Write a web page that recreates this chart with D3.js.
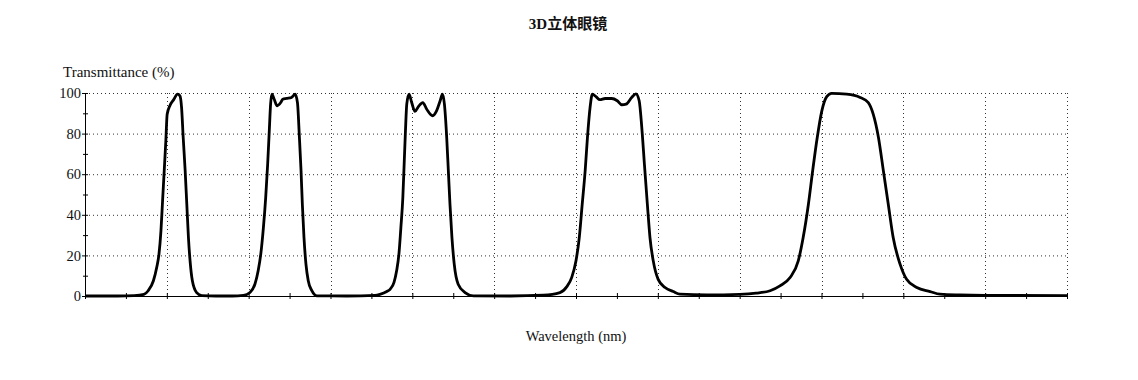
<!DOCTYPE html>
<html>
<head>
<meta charset="utf-8">
<script src="https://cdn.jsdelivr.net/npm/d3@7"></script>
<style>
  body { margin: 0; background: #fff; }
  text { font-family: "Liberation Serif", "Noto Sans CJK SC", serif; fill: #111; }
</style>
</head>
<body>
<script>
// chart texts
const chartTitle = "3D立体眼镜";
const yTitle = "Transmittance (%)";
const xTitle = "Wavelength (nm)";

// axis ranges / ticks
const xDomain = [400, 700];
const xMajorStep = 25;
const xMinorStep = 12.5;
const yTicks = [0, 20, 40, 60, 80, 100];
const yMinorTicks = [10, 30, 50, 70, 90];

// spectrum
const wavelength = [
    400, 410, 415, 418, 419.3, 420.9, 421.9, 422.6, 423.2, 423.7, 424.2, 424.7, 425.1, 426.0, 427.0, 428.3,
    429.0, 429.5, 430.0, 430.6, 431.1, 431.6, 432.1, 432.8, 434.1, 435.7, 440, 445,
    448.4, 450.4, 451.9, 452.9, 453.7, 454.5, 455.2, 455.8, 456.3, 456.7, 457.1, 457.8, 458.7, 459.8,
    460.4, 461.6, 463.1, 464.2, 464.9, 465.5, 466.0, 466.4, 466.9, 467.5, 468.2, 469.3, 470.8, 480,
    488.6, 490.1, 492.2, 493.2, 494.4, 495.2, 495.9, 496.5, 497.1, 497.5, 497.9, 498.3, 499.0, 499.8,
    500.8, 501.8, 503.2, 504.4, 506.2, 507.4, 508.5, 509.2, 509.8, 510.5, 511.0, 511.5, 512.1, 512.8,
    514.0, 516.1, 518.6, 530, 540,
    545.1, 547.2, 548.7, 550.0, 551.0, 551.9, 552.8, 553.5, 554.3, 555.0, 556.1, 557.3, 558.9, 560.9,
    562.6, 564.0, 565.3, 567.0, 568.3, 569.3, 570.1, 570.9, 571.8, 572.6, 573.6, 575.1, 577.2, 579.7,
    581.8, 590, 600, 605,
    609.3, 612.3, 615.4, 617.9, 619.4, 621.0, 622.3, 623.7, 625.1, 626.6, 628.1, 632.7, 636.8, 639.3,
    640.8, 642.4, 643.9, 645.4, 646.9, 649.0, 651.0, 654.1, 658.2, 661.2, 667.3, 675.0, 700
];
const transmittance = [
    0, 0, 0.2, 0.8, 2.6, 7.5, 14.0, 20.6, 32.1, 46.9, 61.7, 76.5, 89.5, 94.0, 96.5, 99.4,
    98.6, 92.9, 78.1, 61.7, 45.2, 28.8, 17.3, 7.5, 1.7, 0.2, 0, 0,
    0.3, 1.7, 5.8, 12.4, 20.6, 33.7, 48.5, 64.9, 81.4, 94.5, 99.4, 96.9, 93.7, 95.3,
    96.9, 97.3, 97.8, 99.4, 95.3, 78.1, 61.7, 45.2, 28.8, 15.7, 7.5, 2.6, 0.1, 0,
    0.3, 0.8, 2.2, 3.3, 6.7, 12.4, 20.6, 33.7, 48.5, 64.9, 81.4, 94.5, 99.4, 95.3,
    90.9, 93.2, 95.3, 92.0, 88.8, 91.2, 96.2, 99.4, 94.5, 78.1, 61.7, 45.2, 28.8, 15.7,
    5.8, 1.7, 0.1, 0, 0.4,
    1.7, 4.6, 9.2, 17.4, 28.8, 45.2, 61.7, 78.1, 92.9, 99.4, 98.2, 96.7, 97.3, 97.3,
    96.2, 94.2, 94.5, 97.8, 99.6, 96.2, 83.0, 64.9, 45.2, 28.8, 17.3, 8.2, 4.2, 2.2,
    0.9, 0.5, 0.8, 1.4,
    2.6, 5.0, 9.1, 17.3, 28.8, 45.2, 61.7, 78.1, 91.2, 98.2, 99.8, 99.4, 97.8, 95.3,
    89.6, 78.1, 61.7, 45.2, 28.8, 15.7, 8.2, 4.2, 2.2, 0.9, 0.5, 0.3, 0.2
];

const dataset = wavelength.map((w, i) => ({ x: w, y: transmittance[i] }));

const totalW = 1138;
const totalH = 380;
const margin = { top: 93, right: 71, bottom: 84, left: 85 };
const width = totalW - margin.left - margin.right;
const height = totalH - margin.top - margin.bottom;

const svg = d3.select("body")
    .append("svg")
    .attr("width", totalW)
    .attr("height", totalH);

svg.append("rect")
    .attr("width", totalW)
    .attr("height", totalH)
    .attr("fill", "#fff");

const mainGroup = svg.append("g")
    .attr("transform", `translate(${margin.left}, ${margin.top})`);

const xScale = d3.scaleLinear().domain(xDomain).range([0, width]);
const yScale = d3.scaleLinear().domain([0, 100]).range([height, 0]);

const xMajor = d3.range(xDomain[0], xDomain[1] + 0.01, xMajorStep);
const xMinor = d3.range(xDomain[0], xDomain[1] + 0.01, xMinorStep);

// dotted grid
mainGroup.append("g")
    .selectAll("line")
    .data(yTicks.filter(d => d > 0))
    .enter()
    .append("line")
    .attr("x1", 0)
    .attr("x2", width)
    .attr("y1", d => yScale(d) + 0.5)
    .attr("y2", d => yScale(d) + 0.5)
    .attr("stroke", "#333")
    .attr("stroke-width", 1)
    .attr("stroke-dasharray", "1,3");

mainGroup.append("g")
    .selectAll("line")
    .data(xMajor.filter(d => d > xDomain[0]))
    .enter()
    .append("line")
    .attr("x1", d => Math.round(xScale(d)) + 0.5)
    .attr("x2", d => Math.round(xScale(d)) + 0.5)
    .attr("y1", 0)
    .attr("y2", height)
    .attr("stroke", "#333")
    .attr("stroke-width", 1)
    .attr("stroke-dasharray", "1,3");

// y axis
const yAxis = mainGroup.append("g")
    .call(d3.axisLeft(yScale).tickValues(yTicks).tickSizeOuter(0).tickPadding(4));
yAxis.select(".domain").attr("stroke", "#000");
yAxis.selectAll(".tick line").attr("x1", 3).attr("x2", -3).attr("stroke", "#000");
yAxis.selectAll(".tick text")
    .attr("x", -4)
    .style("font-family", "'Liberation Serif', serif")
    .style("font-size", "14.5px")
    .attr("fill", "#222");

const yMinorAxis = mainGroup.append("g")
    .call(d3.axisLeft(yScale).tickValues(yMinorTicks).tickFormat("").tickSizeOuter(0));
yMinorAxis.select(".domain").remove();
yMinorAxis.selectAll(".tick line").attr("x1", 3).attr("x2", -2).attr("stroke", "#000");

// x axis (no labels in the original)
const xAxis = mainGroup.append("g")
    .attr("transform", `translate(0, ${height})`)
    .call(d3.axisBottom(xScale).tickValues(xMinor).tickFormat("").tickSizeOuter(0));
xAxis.select(".domain").attr("stroke", "#000");
xAxis.selectAll(".tick line").attr("y1", -3).attr("y2", 3).attr("stroke", "#000");

// spectrum line
const line = d3.line()
    .curve(d3.curveMonotoneX)
    .x(d => xScale(d.x))
    .y(d => yScale(d.y));

mainGroup.append("path")
    .datum(dataset)
    .attr("fill", "none")
    .attr("stroke", "#000")
    .attr("stroke-width", 2.8)
    .attr("stroke-linejoin", "round")
    .attr("d", line);

// titles
svg.append("text")
    .attr("x", 568)
    .attr("y", 29)
    .attr("text-anchor", "middle")
    .style("font-size", "15px")
    .style("font-weight", "bold")
    .text(chartTitle);

svg.append("text")
    .attr("x", 63)
    .attr("y", 77)
    .style("font-size", "15px")
    .text(yTitle);

svg.append("text")
    .attr("x", margin.left + width / 2)
    .attr("y", 341)
    .attr("text-anchor", "middle")
    .style("font-size", "14.5px")
    .text(xTitle);
</script>
</body>
</html>
